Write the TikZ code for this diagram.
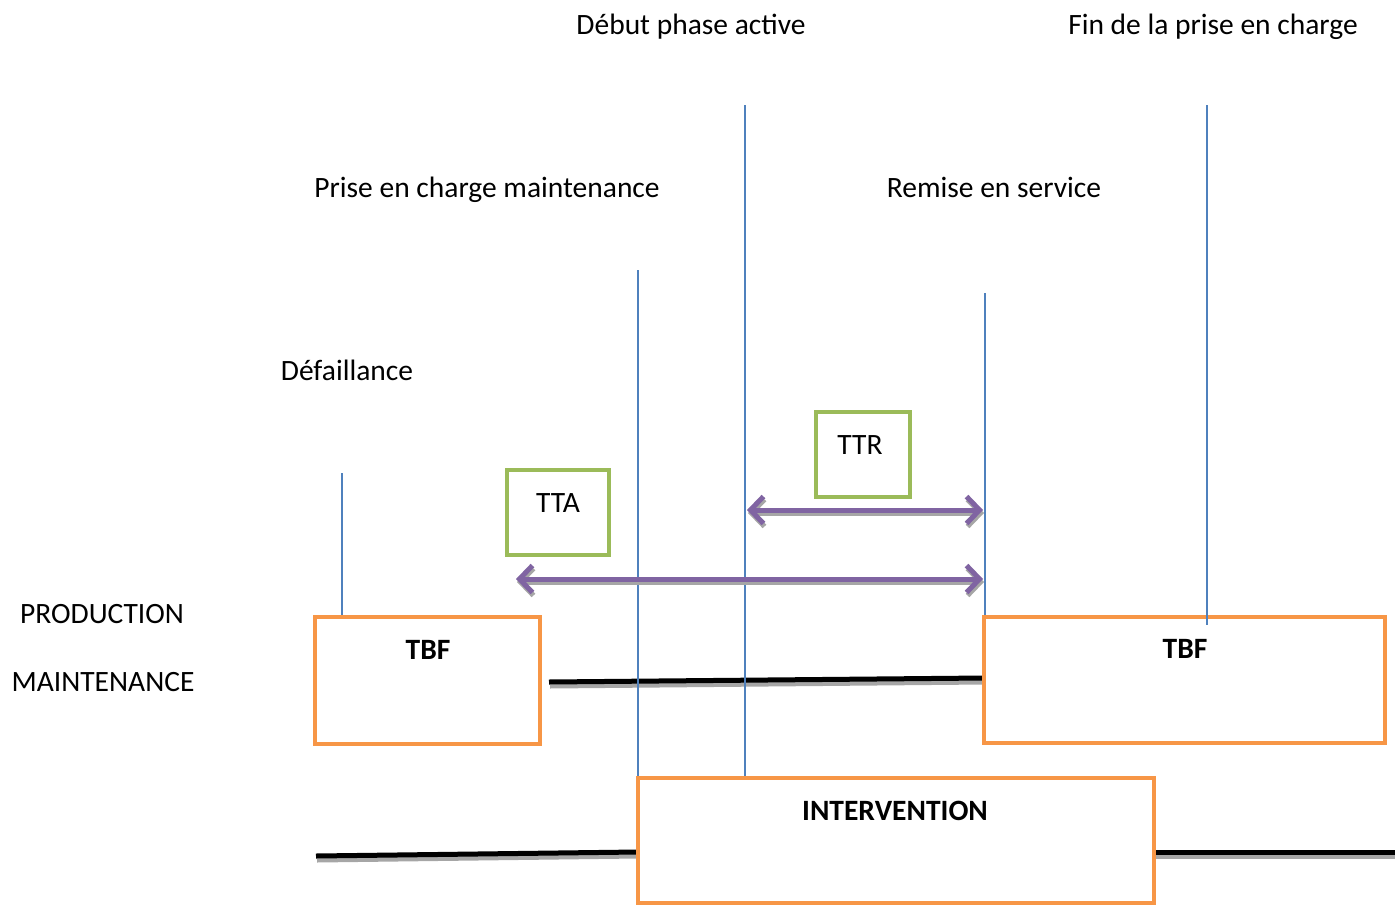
\documentclass[tikz,border=0pt]{standalone}
\usepackage{fontspec}
\setmainfont{Carlito}
\usetikzlibrary{arrows.meta}
\definecolor{lblue}{HTML}{4F81BD}
\definecolor{lorange}{HTML}{F79646}
\definecolor{lgreen}{HTML}{9BBB59}
\definecolor{lpurple}{HTML}{8064A2}
\definecolor{shgray}{HTML}{A6A6A6}
\tikzset{
  txt/.style={inner sep=0pt, anchor=base, font=\fontsize{29.5}{35}\selectfont},
  btxt/.style={txt, font=\fontsize{29.5}{35}\selectfont\bfseries},
  obox/.style={draw=lorange, line width=4pt, inner sep=0pt, fill=white},
  gbox/.style={draw=lgreen, line width=4pt, inner sep=0pt},
  vline/.style={draw=lblue, line width=1.4pt},
  hline/.style={line width=5pt, black},
  hshadow/.style={line width=5pt, shgray},
  parrow/.style={line width=5pt, lpurple, line cap=round, line join=round,
    {Straight Barb[length=13pt,width=27pt,line width=5pt]}-{Straight Barb[length=13pt,width=27pt,line width=5pt]}},
  pshadow/.style={parrow, draw=shgray}
}
\begin{document}
\begin{tikzpicture}[x=1pt,y=-1pt]
\useasboundingbox (0,0) rectangle (1398,905);

% texts
\node[txt] (debut) at (691,34) {Début phase active};
\node[txt] (fin) at (1213,34) {Fin de la prise en charge};
\node[txt] (prise) at (487,197) {Prise en charge maintenance};
\node[txt] (remise) at (994,197) {Remise en service};
\node[txt] (defa) at (347,380) {Défaillance};
\node[txt] (prod) at (102,623) {PRODUCTION};
\node[txt] (maint) at (103,691) {MAINTENANCE};

% black lines with shadows
\coordinate (m1a) at (549,682);
\coordinate (m1b) at (985,678);
\coordinate (m2a) at (316,856);
\coordinate (m2b) at (638,852);
\coordinate (m3a) at (1154,852);
\coordinate (m3b) at (1395,852);
\draw[hshadow] ([shift={(1,4)}]m1a) -- ([shift={(0,4)}]m1b);
\draw[hshadow] ([shift={(1,4)}]m2a) -- ([shift={(0,4)}]m2b);
\draw[hshadow] ([shift={(1,4)}]m3a) -- ([shift={(0,4)}]m3b);
\draw[hline] (m1a) -- (m1b);
\draw[hline] (m2a) -- (m2b);
\draw[hline] (m3a) -- (m3b);

% orange boxes
\node[obox, minimum width=225pt, minimum height=127pt] (tbf1) at (427.5,680.5) {};
\node[obox, minimum width=401pt, minimum height=126pt] (tbf2) at (1184.5,680) {};
\node[obox, minimum width=516pt, minimum height=125pt] (inter) at (896,840.5) {};
\node[btxt] (tbf1t) at (428,659) {TBF};
\node[btxt] (tbf2t) at (1185,658) {TBF};
\node[btxt] (intert) at (895,820) {INTERVENTION};

% green boxes
\node[gbox, minimum width=102pt, minimum height=85pt] (tta) at (558,512.5) {};
\node[txt] (ttat) at (558,512) {TTA};
\node[gbox, minimum width=94pt, minimum height=85pt] (ttr) at (863,454.5) {};
\node[txt] (ttrt) at (860,454) {TTR};

% blue vertical lines
\coordinate (v1t) at (342,473);
\coordinate (v2t) at (638,270);
\coordinate (v3t) at (745,105);
\coordinate (v4t) at (985,293);
\coordinate (v5t) at (1207,105);
\coordinate (v5b) at (1207,625);
\draw[vline] (v1t) -- (v1t |- tbf1.north);
\draw[vline] (v2t) -- (v2t |- inter.north);
\draw[vline] (v3t) -- (v3t |- inter.north);
\draw[vline] (v4t) -- (v4t |- tbf2.north);
\draw[vline] (v5t) -- (v5b);

% purple arrows
\coordinate (a1l) at (747,510);
\coordinate (a1r) at (983,510);
\coordinate (a2l) at (516,579);
\coordinate (a2r) at (983,579);
\draw[pshadow] ([shift={(1,3)}]a1l) -- ([shift={(1,3)}]a1r);
\draw[pshadow] ([shift={(1,3)}]a2l) -- ([shift={(1,3)}]a2r);
\draw[parrow] (a1l) -- (a1r);
\draw[parrow] (a2l) -- (a2r);
\end{tikzpicture}
\end{document}
